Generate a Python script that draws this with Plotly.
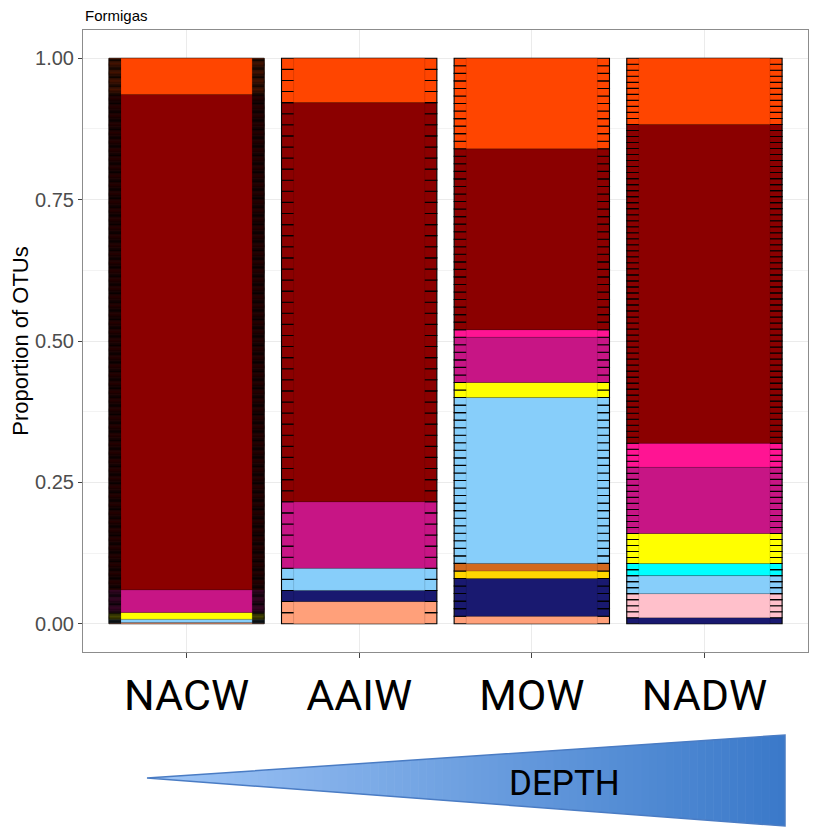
import plotly.graph_objects as go

# ---------------- data ----------------
samples = ["NACW", "AAIW", "MOW", "NADW"]
groups = ["Group 1", "Group 2", "Group 3", "Group 4", "Group 5", "Group 6",
          "Group 7", "Group 8", "Group 9", "Group 10", "Group 11", "Group 12"]
group_colors = ["#FFA07A", "#191970", "#FFC0CB", "#FFD700", "#D2691E", "#87CEFA",
                "#00FFFF", "#FFFF00", "#C71585", "#FF1493", "#8B0000", "#FF4500"]
# number of OTUs per group (bottom -> top) in each water mass
otus_nacw = [1, 0, 0, 0, 0, 3, 0, 6, 20, 0, 438, 32]
otus_aaiw = [2, 1, 0, 0, 0, 2, 0, 0, 6, 0, 36, 4]
otus_mow = [1, 5, 0, 1, 1, 22, 0, 2, 6, 1, 24, 12]
otus_nadw = [0, 1, 4, 0, 0, 3, 2, 5, 11, 4, 53, 11]
counts = {"NACW": otus_nacw, "AAIW": otus_aaiw, "MOW": otus_mow, "NADW": otus_nadw}
y_ticks = [0, 0.25, 0.5, 0.75, 1.0]
y_ticktext = ["0.00", "0.25", "0.50", "0.75", "1.00"]

# ---------------- build traces ----------------
ox, oy, ob, oc, olw = [], [], [], [], []
cx, cy, cb, cc = [], [], [], []
for s in samples:
    c = counts[s]
    n = sum(c)
    cum = 0.0
    for g, k in enumerate(c):
        if k == 0:
            continue
        for j in range(k):
            ox.append(s)
            oy.append(1.0 / n)
            ob.append(cum + j / n)
            oc.append(group_colors[g])
            olw.append(0.9 if n > 200 else 1.1)
        cx.append(s)
        cy.append(k / n)
        cb.append(cum)
        cc.append(group_colors[g])
        cum += k / n

fig = go.Figure()
fig.add_trace(go.Bar(x=ox, y=oy, base=ob, width=0.9,
                     marker=dict(color=oc, line=dict(color="black", width=olw)),
                     hoverinfo="skip", showlegend=False))
fig.add_trace(go.Bar(x=cx, y=cy, base=cb, width=0.76,
                     marker=dict(color=cc, line=dict(color="rgba(0,0,0,0.25)", width=0.5)),
                     showlegend=False))

# ---------------- layout ----------------
OFF = 8  # page body margin
W, H = 820 - OFF, 829 - OFF
# target plot area in window pixels: x 83..808, y 30..652
L, R, T, B = 83 - OFF, 820 - 808, 30 - OFF, 829 - 652
pw, ph = W - L - R, H - T - B


def px2paper(x, y):
    # x, y in window pixels
    return (x - OFF - L) / pw, (H - B - (y - OFF)) / ph


shapes = []
# depth wedge with gradient (drawn as thin strips)
tip = (147, 778)
rx, rtop, rbot = 785, 735, 826
c0 = (160, 198, 247)
c1 = (58, 121, 201)
N = 80
for i in range(N):
    xa = tip[0] + (rx - tip[0]) * i / N
    xb = tip[0] + (rx - tip[0]) * (i + 1) / N
    ta = tip[1] + (rtop - tip[1]) * i / N
    tb = tip[1] + (rtop - tip[1]) * (i + 1) / N
    ba = tip[1] + (rbot - tip[1]) * i / N
    bb = tip[1] + (rbot - tip[1]) * (i + 1) / N
    f = (i + 0.5) / N
    col = "rgb(%d,%d,%d)" % tuple(round(c0[k] + (c1[k] - c0[k]) * f) for k in range(3))
    p1 = px2paper(xa, ta); p2 = px2paper(min(xb + 0.6, rx), tb)
    p3 = px2paper(min(xb + 0.6, rx), bb); p4 = px2paper(xa, ba)
    path = "M %f %f L %f %f L %f %f L %f %f Z" % (p1 + p2 + p3 + p4)
    shapes.append(dict(type="path", xref="paper", yref="paper", path=path,
                       fillcolor=col, line=dict(width=0), layer="above"))
q1 = px2paper(*tip); q2 = px2paper(rx, rtop); q3 = px2paper(rx, rbot)
shapes.append(dict(type="path", xref="paper", yref="paper",
                   path="M %f %f L %f %f L %f %f Z" % (q1 + q2 + q3),
                   line=dict(color="#4a7cc4", width=1.5), layer="above"))

tx, ty = px2paper(564, 783)
fx, fy = px2paper(83, 15.5)

fig.update_layout(
    width=W, height=H,
    margin=dict(l=L, r=R, t=T, b=B, autoexpand=False),
    paper_bgcolor="white", plot_bgcolor="white",
    barmode="overlay", bargap=0.1, showlegend=False,
    font=dict(family="Liberation Sans, Arial, sans-serif", color="black"),
    xaxis=dict(type="category", categoryorder="array", categoryarray=samples,
               range=[-0.6, 3.6], showgrid=True, gridcolor="#ebebeb", gridwidth=1,
               showline=True, mirror=True, linecolor="#8c8c8c", linewidth=1,
               ticks="outside", ticklen=5, tickcolor="#444", automargin=False,
               tickfont=dict(family="Roboto", size=43, color="black"),
               zeroline=False),
    yaxis=dict(range=[-0.05, 1.05], tickvals=y_ticks, ticktext=y_ticktext,
               showgrid=True, gridcolor="#ebebeb", gridwidth=1,
               minor=dict(tickvals=[0.125, 0.375, 0.625, 0.875], showgrid=True,
                          gridcolor="#f3f3f3", gridwidth=0.6, ticks=""),
               showline=True, mirror=True, linecolor="#8c8c8c", linewidth=1,
               ticks="outside", ticklen=4, tickcolor="#444", automargin=False,
               tickfont=dict(family="Liberation Sans", size=20, color="#4d4d4d"),
               title=dict(text="Proportion of OTUs", standoff=1,
                          font=dict(family="Liberation Sans", size=22, color="black")),
               zeroline=False),
    shapes=shapes,
    annotations=[
        dict(text="Formigas", x=fx, y=fy, xref="paper", yref="paper",
             xanchor="left", yanchor="middle", showarrow=False,
             font=dict(family="Liberation Sans", size=15, color="black")),
        dict(text="DEPTH", x=tx, y=ty, xref="paper", yref="paper",
             xanchor="center", yanchor="middle", showarrow=False,
             font=dict(family="Roboto", size=35, color="black")),
    ],
)

fig.write_html("out.html")
